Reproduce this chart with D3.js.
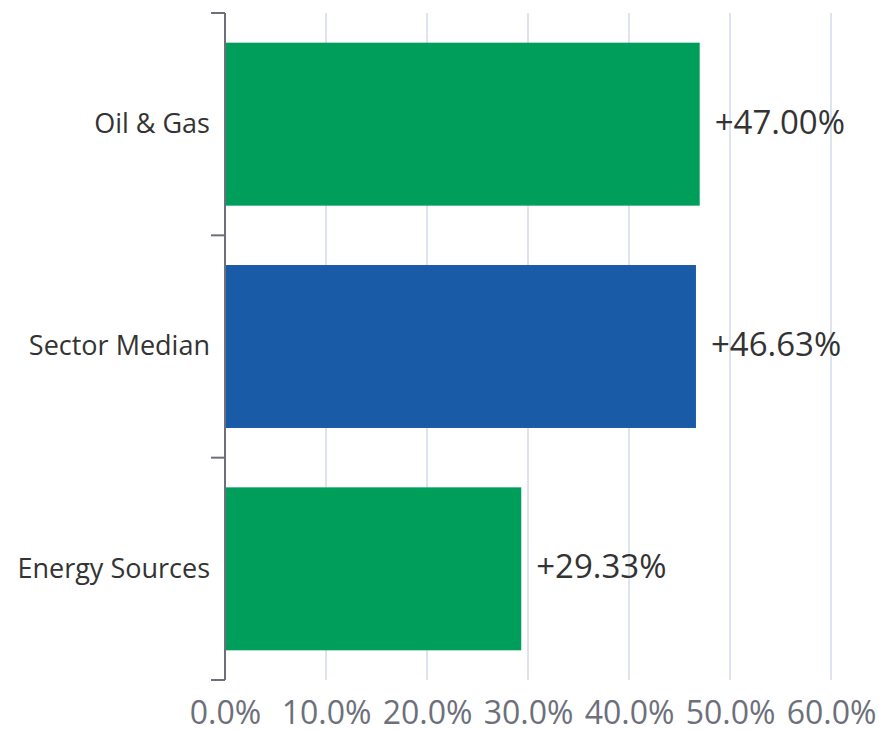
<!DOCTYPE html>
<html>
<head>
<meta charset="utf-8">
<script src="https://cdn.jsdelivr.net/npm/d3@7"></script>
<style>
  html, body { margin: 0; padding: 0; background: #ffffff; }
  svg { display: block; }
</style>
</head>
<body>
<svg id="chart" width="879" height="730"></svg>
<script>
// Chart data
const categories = ["Oil & Gas", "Sector Median", "Energy Sources"];
const values = [47.00, 46.63, 29.33];
const barColors = ["#009e5b", "#1a5ba8", "#009e5b"];
const xTicks = [0, 10, 20, 30, 40, 50, 60];

const svg = d3.select("#chart");
const margin = { left: 225, right: 48, top: 13, bottom: 50 };
const width = 879, height = 730;
const plotBottom = height - margin.bottom;

const x = d3.scaleLinear().domain([0, 60]).range([margin.left, width - margin.right]);
const y = d3.scaleBand().domain(categories).range([margin.top, plotBottom])
  .paddingInner(0.267).paddingOuter(0.1335);

const font = "'Segoe UI', 'Open Sans', 'Noto Sans', sans-serif";

// Vertical gridlines
svg.append("g").selectAll("line").data(xTicks.filter(d => d > 0)).join("line")
  .attr("x1", d => x(d)).attr("x2", d => x(d))
  .attr("y1", margin.top).attr("y2", plotBottom)
  .attr("stroke", "#dde4f0").attr("stroke-width", 2);

// Bars
svg.append("g").selectAll("rect").data(categories).join("rect")
  .attr("x", x(0))
  .attr("y", d => y(d))
  .attr("width", (d, i) => x(values[i]) - x(0))
  .attr("height", y.bandwidth())
  .attr("fill", (d, i) => barColors[i]);

// Value labels
svg.append("g").selectAll("text").data(categories).join("text")
  .attr("x", (d, i) => x(values[i]) + 15)
  .attr("y", d => y(d) + y.bandwidth() / 2)
  .attr("dy", "0.29em")
  .attr("font-family", font)
  .attr("font-size", 33)
  .attr("fill", "#333333")
  .text((d, i) => "+" + values[i].toFixed(2) + "%");

// X axis tick labels (no axis line)
const xAxis = d3.axisBottom(x).tickValues(xTicks).tickSize(0).tickPadding(21)
  .tickFormat(d => d.toFixed(1) + "%");
const gx = svg.append("g").attr("transform", `translate(0,${plotBottom})`).call(xAxis);
gx.select(".domain").remove();
gx.selectAll("text").attr("font-family", font).attr("font-size", 32).attr("fill", "#6d707b");

// Y axis with band boundary ticks
const gy = svg.append("g").attr("transform", `translate(${margin.left},0)`);
gy.append("line")
  .attr("x1", 0).attr("x2", 0)
  .attr("y1", margin.top).attr("y2", plotBottom)
  .attr("stroke", "#6d707b").attr("stroke-width", 2);
const boundaries = categories.map(c => y(c) - y.step() * y.paddingInner() / 2).concat([plotBottom]);
gy.selectAll("line.tick").data(boundaries).join("line")
  .attr("class", "tick")
  .attr("x1", -14).attr("x2", 0)
  .attr("y1", d => d).attr("y2", d => d)
  .attr("stroke", "#6d707b").attr("stroke-width", 2);
gy.selectAll("text").data(categories).join("text")
  .attr("x", -15)
  .attr("y", d => y(d) + y.bandwidth() / 2)
  .attr("dy", "0.33em")
  .attr("text-anchor", "end")
  .attr("font-family", font)
  .attr("font-size", 27)
  .attr("fill", "#333333")
  .text(d => d);
</script>
</body>
</html>
